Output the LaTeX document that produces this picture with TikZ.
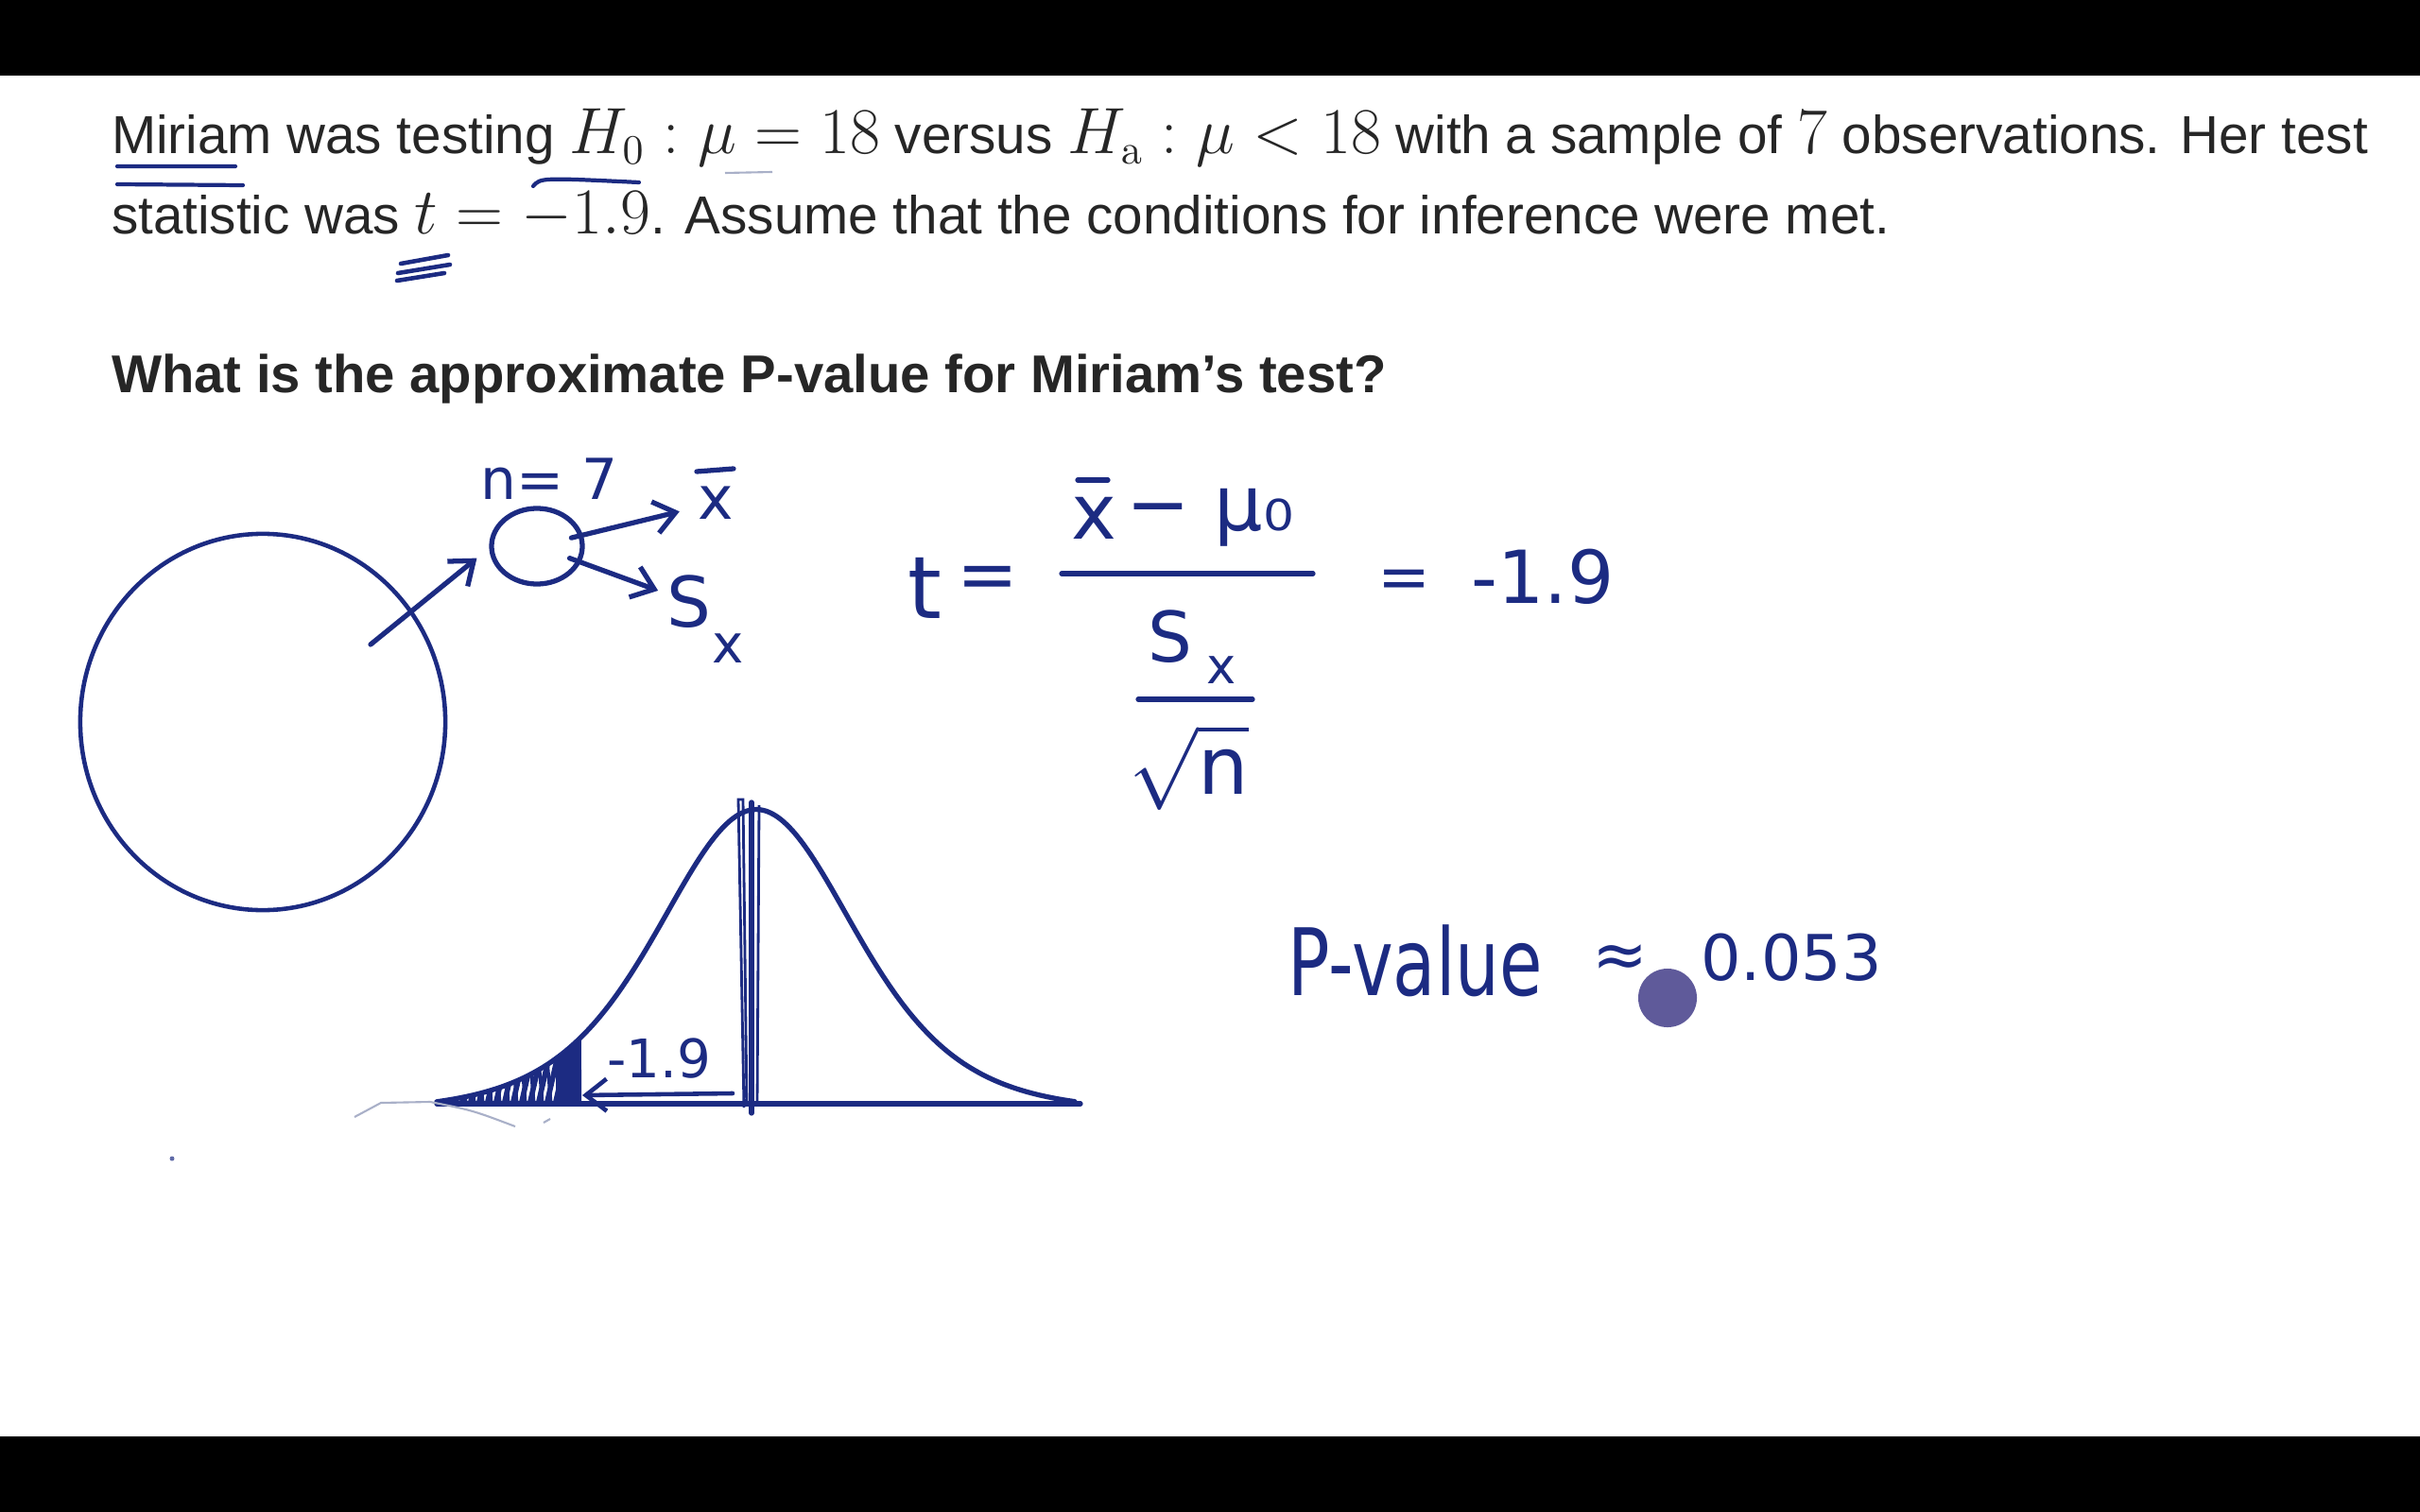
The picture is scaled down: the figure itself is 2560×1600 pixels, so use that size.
\documentclass[tikz,border=0pt]{standalone}
\usepackage[no-math]{fontspec}
\setmainfont{Liberation Sans}
\newfontfamily\hand{DejaVu Sans}
\newfontfamily\handn[FakeStretch=0.75]{DejaVu Sans}
\usepackage{tikz}
\usetikzlibrary{positioning, arrows.meta, shapes.geometric}
\definecolor{ink}{HTML}{1C2B82}
\definecolor{cursor}{HTML}{5F5A9A}
\definecolor{faint}{HTML}{A9B0C8}
\newcommand{\km}[1]{\scalebox{1.14}{$#1$}}

\begin{document}
\begin{tikzpicture}[x=0.01cm, y=-0.01cm,
    every node/.style={inner sep=0pt, outer sep=0pt},
    prompt/.style={anchor=base west, text=black!85,
      font=\fontsize{16.1}{19}\selectfont},
    hw/.style={text=ink, font={\hand\fontsize{#1}{#1}\selectfont}},
    pen/.style={draw=ink, line width=1.5pt, line cap=round, line join=round},
    arr/.style={pen, -{Straight Barb[length=2.2mm, width=3.4mm]}}]
  \useasboundingbox (0,0) rectangle (2560,1600);
  \fill[black] (0,0) rectangle (2560,80);
  \fill[black] (0,1520) rectangle (2560,1600);

  % question
  \node[prompt] (l1) at (118,163) {Miriam was testing \km{H_0:\mu=18} versus \km{H_{\mathrm{a}}:\mu<18} with a sample of \km{7} observations. Her test};
  \node[prompt] (l2) at (118,248) {statistic was \km{t=-1.9}. Assume that the conditions for inference were met.};
  \node[prompt, font=\fontsize{16}{19}\selectfont\bfseries] (q) at (118,416) {What is the approximate P-value for Miriam's test?};

  % pen marks on the question
  \draw[pen, line width=1.2pt] (124,176) -- (249,176) (124,195) -- (257,196);
  \draw[pen, line width=1.2pt] (564,197) .. controls (572,188) .. (676,193);
  \draw[faint, line width=0.6pt] (767,183) -- (817,182);
  \draw[pen, line width=1.3pt] (424,279) -- (474,270) (421,289) -- (476,280) (420,297) -- (470,289);

  % population and sample
  \node[ellipse, draw=ink, line width=1.3pt, minimum width=3.86cm, minimum height=3.98cm] (pop) at (278,764) {};
  \node[ellipse, pen, minimum width=0.96cm, minimum height=0.80cm] (samp) at (568,578) {};
  \node[hw=17] (n7) at (581,507) {n= 7};
  \node[hw=18] (xbar) at (757,532) {x};
  \draw[pen] (737,499) -- (776,496);
  \node[hw=21] (sx) at (729,637) {S};
  \node[hw=16] (sxsub) at (770,686) {x};
  \coordinate (pin) at (392,682);
  \draw[arr, shorten >=2mm] (pin) -- (samp.west);
  \draw[arr, shorten <=-1mm, shorten >=2mm] (samp) -- (xbar);
  \draw[arr, shorten <=-1mm, shorten >=1mm] (samp) -- (sx);

  % t statistic
  \node[hw=26] (tvar) at (978,622) {t};
  \node[hw=22] (eq1) at (1045,617) {=};
  \node[hw=23] (numx) at (1157,548) {x};
  \draw[pen] (1140,508) -- (1172,508);
  \node[hw=23] (numer) at (1280,548) {− μ₀};
  \draw[pen] (1123,607) -- (1389,607);
  \node[hw=21] (denS) at (1238,674) {S};
  \node[hw=15] (densub) at (1292,709) {x};
  \draw[pen] (1204,740) -- (1325,740);
  \node[hw=24] (rootn) at (1258,812) {$\sqrt{\hbox{n}}$};
  \node[hw=19] (eq2) at (1485,618) {=};
  \node[hw=22] (tval) at (1632,610) {-1.9};

  % t distribution
  \draw[pen] (462,1168) -- (1143,1168);
  \draw[pen] plot[domain=-3.13:3.12, samples=90, smooth] ({800+108*\x},{1167-320*(exp(-3.5*ln(1+\x*\x/6))-0.03)});
  \begin{scope}
    \clip plot[domain=-3.13:-1.713, samples=40] ({800+108*\x},{1167-320*(exp(-3.5*ln(1+\x*\x/6))-0.03)}) -- (615,1170) -- (462,1170) -- cycle;
    \foreach \k in {452,461,...,590} \draw[ink, line width=1.6pt] (\k,1170) -- ++(16,-70);
    \foreach \k in {466,475,...,590} \draw[ink, line width=1pt] (\k,1170) -- ++(-6,-70);
    \fill[ink] (588,1000) rectangle (616,1172);
  \end{scope}
  \draw[pen] (795,849) -- (795,1178);
  \draw[ink, line width=0.8pt] (787,1172) -- (781,846) -- (786,846) -- (790,1170);
  \draw[ink, line width=0.8pt] (803,852) -- (801,1170);
  \node[hw=16] (tlab) at (697,1120) {-1.9};
  \coordinate (mu0) at (775,1157);
  \coordinate (tcut) at (616,1159);
  \draw[arr, line width=1.3pt] (mu0) -- (tcut);
  \draw[faint, line width=0.6pt] (375,1182) -- (403,1167) -- (455,1166) .. controls (500,1175) .. (545,1192);
  \draw[faint, line width=0.6pt] (575,1188) -- (582,1184);
  \fill[ink!70] (182,1226) circle (0.025cm);

  % answer
  \node[text=ink, font={\handn\fontsize{28}{28}\selectfont}] (pv) at (1497,1017) {P-value};
  \node[hw=20] (approx) at (1714,1017) {≈};
  \node[hw=19] (pnum) at (1895,1013) {0.053};
  \fill[cursor] (1764,1056) circle (0.31cm);
\end{tikzpicture}
\end{document}
